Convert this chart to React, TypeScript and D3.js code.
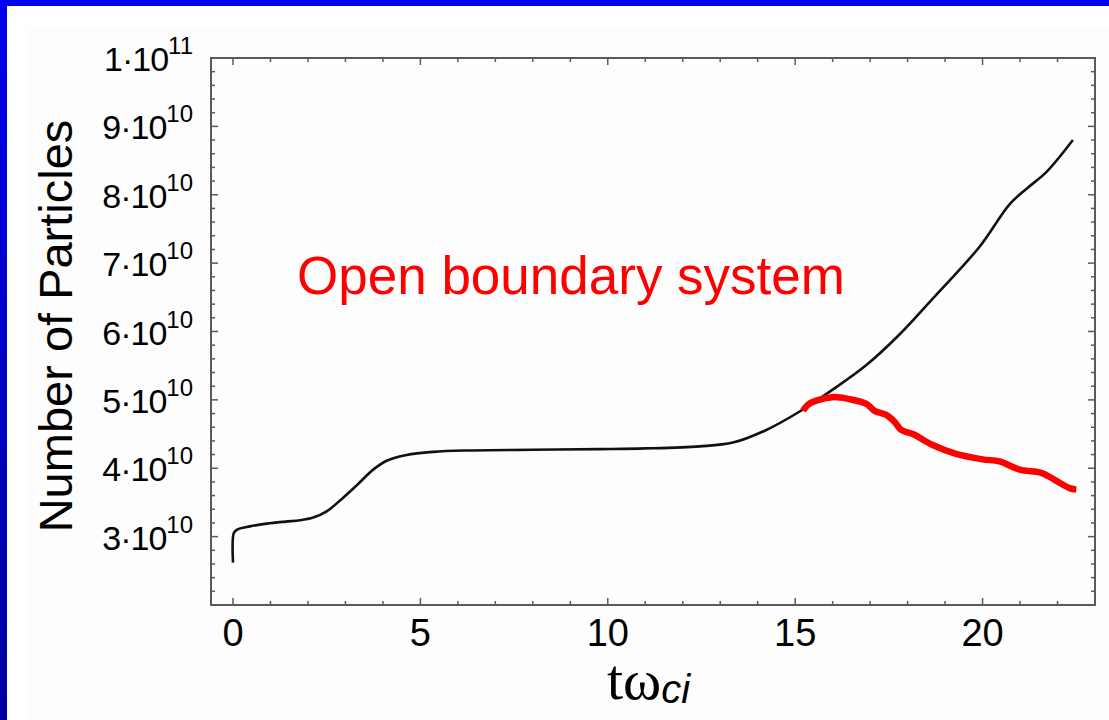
import React from "react";
import * as d3 from "d3";

// black curve: total number of particles (units of 1e10)
const blackT = [0, 0.02, 0.1, 0.45, 0.9, 1.4, 1.79, 2.14, 2.5, 2.94, 3.3, 3.74, 4.1, 4.63, 5.34, 6.23, 8, 9.79, 11, 12.45, 13.34, 14.23, 15.12, 16.0, 16.9, 17.79, 18.67, 19.92, 20.72, 21.2, 21.7, 22.41];
const blackN = [2.62, 3.05, 3.1, 3.15, 3.19, 3.22, 3.24, 3.28, 3.37, 3.57, 3.75, 3.98, 4.11, 4.195, 4.24, 4.26, 4.27, 4.28, 4.29, 4.32, 4.375, 4.56, 4.83, 5.15, 5.51, 5.96, 6.48, 7.24, 7.86, 8.1, 8.33, 8.8];

// red curve: open boundary system
const redT = [15.21, 15.34, 15.56, 16.0, 16.45, 16.9, 17.12, 17.43, 17.65, 17.83, 18.14, 18.67, 19.29, 20.0, 20.45, 20.99, 21.52, 21.7, 22.32, 22.5];
const redN = [4.84, 4.93, 4.99, 5.04, 5.01, 4.94, 4.84, 4.78, 4.68, 4.56, 4.5, 4.34, 4.21, 4.13, 4.1, 3.98, 3.94, 3.9, 3.71, 3.69];

const xTickLabels = [0, 5, 10, 15, 20];
const yTickLabels = [3, 4, 5, 6, 7, 8, 9, 10];

const W = 1109;
const H = 720;
const x = d3.scaleLinear().domain([-0.587, 23]).range([211, 1095]);
const y = d3.scaleLinear().domain([2, 10]).range([605, 58]);

const line = d3
  .line<[number, number]>()
  .x((d) => x(d[0]))
  .y((d) => y(d[1]))
  .curve(d3.curveCatmullRom.alpha(0.5));

const sans = "'Liberation Sans', Arial, Helvetica, sans-serif";
const frame = "#5a5a5a";

const App = () => {
  const black = blackT.map((t, i) => [t, blackN[i]] as [number, number]);
  const red = redT.map((t, i) => [t, redN[i]] as [number, number]);

  const xMinor = d3.range(0, 23.01, 1);
  const yMinor = d3.range(2, 10.01, 0.2);
  const [x0, x1] = x.range();
  const [y0, y1] = y.range();

  const yLabel = (v: number) => (v === 10 ? ["1·10", "11"] : [v + "·10", "10"]);

  return (
    <svg width={W} height={H} style={{ position: "absolute", left: 0, top: 0 }}>
      <defs>
        <linearGradient id="side" x1="0" y1="0" x2="0" y2="1">
          <stop offset="0" stopColor="#0000f0" />
          <stop offset="1" stopColor="#0000a0" />
        </linearGradient>
      </defs>
      <rect width={W} height={H} fill="#ffffff" />
      <rect x={27} y={28} width={W - 27} height={H - 28} fill="#fdfdfd" />
      <rect x={0} y={0} width={W} height={6} fill="#0000f2" />
      <rect x={0} y={0} width={7} height={H} fill="url(#side)" />

      {/* ticks, inward on all four sides */}
      <g stroke={frame} strokeWidth={1.5}>
        {xMinor.map((t) => {
          const len = t % 5 === 0 ? 7 : 4;
          return (
            <g key={"x" + t}>
              <line x1={x(t)} x2={x(t)} y1={y0} y2={y0 - len} />
              <line x1={x(t)} x2={x(t)} y1={y1} y2={y1 + len} />
            </g>
          );
        })}
        {yMinor.map((v, i) => {
          const len = i % 5 === 0 ? 7 : 4;
          return (
            <g key={"y" + i}>
              <line x1={x0} x2={x0 + len} y1={y(v)} y2={y(v)} />
              <line x1={x1} x2={x1 - len} y1={y(v)} y2={y(v)} />
            </g>
          );
        })}
      </g>
      <rect x={x0} y={y1} width={x1 - x0} height={y0 - y1} fill="none" stroke={frame} strokeWidth={2} />

      <path d={line(black) || ""} fill="none" stroke="#111" strokeWidth={2.6} />
      <path d={line(red) || ""} fill="none" stroke="#ff0000" strokeWidth={6.5} strokeLinejoin="round" />

      {/* tick labels */}
      <g fontFamily={sans} fill="#000">
        {xTickLabels.map((t) => (
          <text key={t} x={x(t)} y={646} fontSize={38} textAnchor="middle">
            {t}
          </text>
        ))}
        {yTickLabels.map((v) => {
          const [base, sup] = yLabel(v);
          return (
            <text key={v} x={193} y={y(v) + 13} fontSize={34} textAnchor="end" letterSpacing={-1}>
              {base}
              <tspan fontSize={24} dy={-17} letterSpacing={0}>
                {sup}
              </tspan>
            </text>
          );
        })}
      </g>

      <text
        transform="translate(72,326) rotate(-90)"
        fontFamily={sans}
        fontSize={47}
        textAnchor="middle"
        fill="#000"
      >
        Number of Particles
      </text>

      <text x={607} y={699} fill="#000">
        <tspan fontFamily="'Liberation Serif', 'Times New Roman', serif" fontSize={58}>
          tω
        </tspan>
        <tspan fontFamily={sans} fontStyle="italic" fontSize={40} dy={4}>
          ci
        </tspan>
      </text>

      <text x={297} y={294} fontFamily={sans} fontSize={53} fill="#ff0000">
        Open boundary system
      </text>
    </svg>
  );
};

export default App;
